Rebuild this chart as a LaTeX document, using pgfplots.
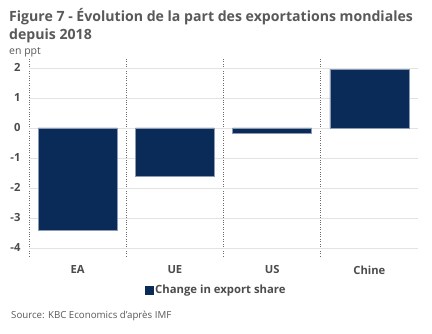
\documentclass[border=0pt]{standalone}
\usepackage{fontspec}
\setmainfont{Open Sans}
\usepackage{pgfplots}
\pgfplotsset{compat=1.18}
\definecolor{barblue}{HTML}{0A2A57}
\definecolor{baredge}{HTML}{8A9AB5}
\definecolor{txtgray}{HTML}{595959}
\definecolor{gridgray}{HTML}{E3E3E3}
\begin{document}
\begin{tikzpicture}
\useasboundingbox[fill=white] (0,0) rectangle (432pt,-334pt);
\node[anchor=base west, inner sep=0, text=txtgray, font=\fontsize{14.1}{16}\selectfont\bfseries] at (9pt,-22pt) {Figure 7 - Évolution de la part des exportations mondiales};
\node[anchor=base west, inner sep=0, text=txtgray, font=\fontsize{14.1}{16}\selectfont\bfseries] at (9pt,-40pt) {depuis 2018};
\node[anchor=base west, inner sep=0, text=txtgray, font=\fontsize{10.5}{12}\selectfont] at (9pt,-54.5pt) {en ppt};
\node[anchor=base west, inner sep=0, text=txtgray, font=\fontsize{9.7}{11}\selectfont] at (11pt,-319pt) {Source: KBC Economics d'après IMF};
\begin{axis}[
  at={(29pt,-256pt)}, anchor=south west,
  scale only axis, width=389pt, height=198pt,
  xmin=-0.5, xmax=3.5, ymin=-4.27, ymax=2.33,
  axis line style={draw=none},
  xtick={0,1,2,3}, xticklabels={EA,UE,US,Chine},
  major x tick style={draw=none},
  minor xtick={-0.5,0.5,1.5,2.5},
  xminorgrids=true,
  minor x grid style={gray!85!black, dotted, line width=0.6pt},
  minor x tick style={draw=none},
  ytick={-4,-3,-2,-1,0,1,2},
  ymajorgrids=true,
  major y grid style={gridgray, line width=0.7pt},
  major y tick style={draw=none},
  /pgf/number format/assume math mode=true,
  tick label style={text=txtgray!85!black, font=\fontsize{11.2}{12}\selectfont\bfseries},
  xticklabel style={yshift=-6pt},
  yticklabel style={xshift=-5pt},
  legend style={at={(axis description cs:0.481,-0.172)}, anchor=center, draw=none, fill=none, font=\fontsize{11.3}{13}\selectfont\bfseries, text=txtgray!85!black, inner sep=0pt},
  legend image code/.code={\fill[barblue] (0pt,-4pt) rectangle (8pt,4pt);},
]
\addplot[ybar, bar width=0.81, fill=barblue, draw=baredge, line width=0.5pt] coordinates {(0,-3.4) (1,-1.6) (2,-0.18) (3,1.96)};
\addlegendentry{Change in export share}
\end{axis}
\end{tikzpicture}
\end{document}
